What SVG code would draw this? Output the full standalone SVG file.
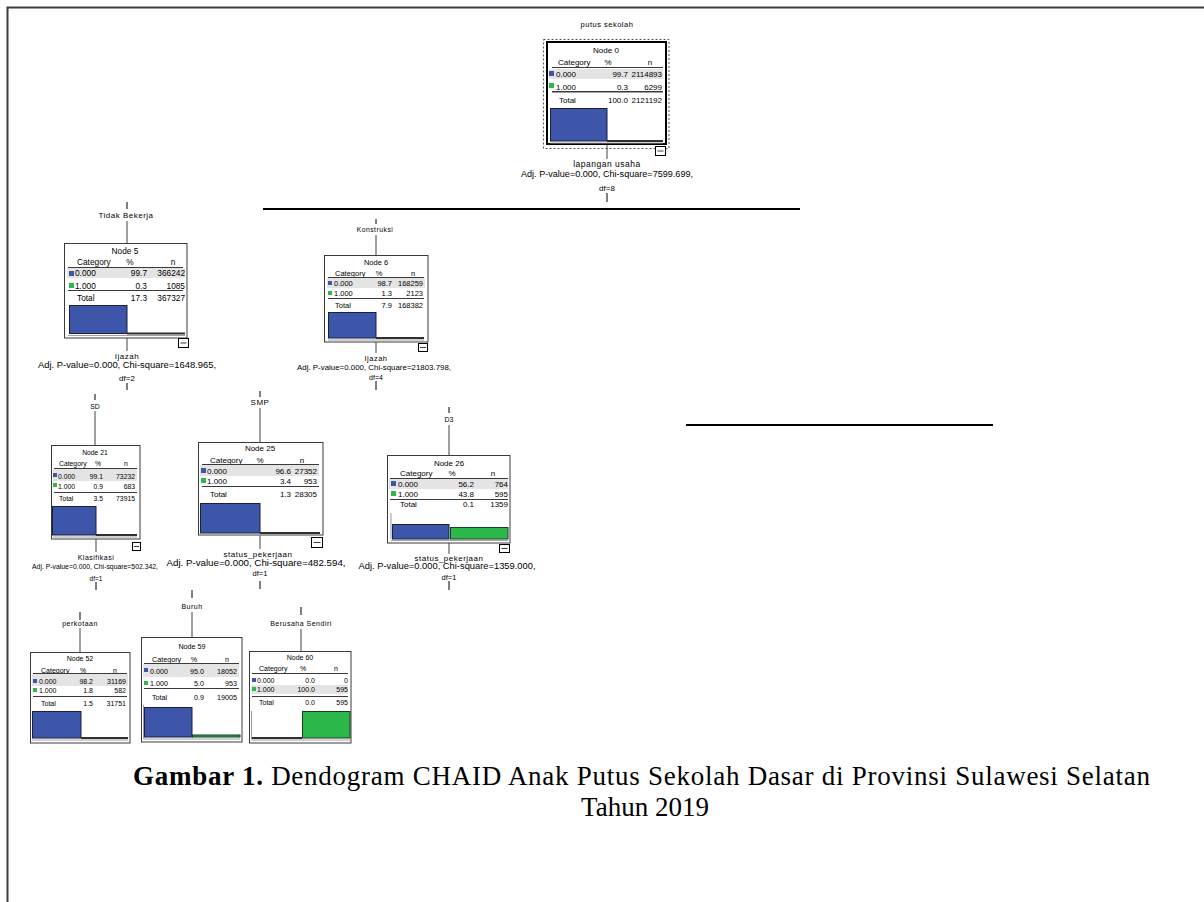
<svg xmlns="http://www.w3.org/2000/svg" width="1204" height="902" viewBox="0 0 1204 902">
  <style>
    text { font-family: "Liberation Sans", Arial, sans-serif; fill: #000; }
    .cap { font-family: "Liberation Serif", "Times New Roman", serif; font-size: 27px; }
    .lbl { letter-spacing: 0.5px; }
    .box { fill: #fff; stroke: #3a3a3a; stroke-width: 1; }
    .bg { fill: #e4e4e4; }
    .rule { stroke: #3a3a3a; stroke-width: 1; }
    .rule2 { stroke: #a0a0a0; stroke-width: 1; }
    .blue { fill: #3d56aa; stroke: #1c1f3c; stroke-width: 1; }
    .green { fill: #2db84b; stroke: #1b3a20; stroke-width: 1; }
    .sqb { fill: #3d56aa; }
    .sqg { fill: #2db84b; }
    .base { stroke: #303030; stroke-width: 2; }
    .axis { stroke: #9a9a9a; stroke-width: 1; }
    .mini { fill: #fff; stroke: #000; stroke-width: 1; }
    .conn { stroke: #6e6e6e; stroke-width: 1.3; fill: none; }
    .tick { stroke: #000; stroke-width: 1; }
    .split { stroke: #000; stroke-width: 2; }
    .m { text-anchor: middle; }
    .e { text-anchor: end; }
  </style>

  <!-- frame -->
  <path d="M7.5 902 V7.5 H1204" fill="none" stroke="#3c3c3c" stroke-width="2"/>

  <!-- connectors, split labels and statistics -->
  <g id="connectors">
    <text x="607" y="27" class="m lbl" font-size="7.5">putus sekolah</text>
    <line class="conn" x1="607" y1="145" x2="607" y2="159"/>
    <text x="607" y="167" class="m lbl" font-size="8.5">lapangan usaha</text>
    <text x="607" y="176.5" class="m" font-size="8.5" textLength="172" lengthAdjust="spacingAndGlyphs">Adj. P-value=0.000, Chi-square=7599.699,</text>
    <text x="607" y="191" class="m" font-size="8">df=8</text>
    <line class="tick" x1="607" y1="193" x2="607" y2="202"/>
    <line class="split" x1="263" y1="209" x2="800" y2="209"/>

    <!-- to Node 5 -->
    <line class="tick" x1="127" y1="202" x2="127" y2="209"/>
    <text x="126" y="218" class="m lbl" font-size="8">Tidak Bekerja</text>
    <line class="conn" x1="127" y1="221" x2="127" y2="243"/>
    <line class="conn" x1="127" y1="338" x2="127" y2="351"/>
    <text x="127" y="359" class="m lbl" font-size="8">Ijazah</text>
    <text x="127" y="367.5" class="m" font-size="8.5" textLength="178" lengthAdjust="spacingAndGlyphs">Adj. P-value=0.000, Chi-square=1648.965,</text>
    <text x="127" y="381" class="m" font-size="8">df=2</text>
    <line class="tick" x1="127" y1="383" x2="127" y2="390"/>

    <!-- to Node 6 -->
    <line class="tick" x1="376" y1="219" x2="376" y2="224"/>
    <text x="375" y="231.5" class="m lbl" font-size="6.8">Konstruksi</text>
    <line class="conn" x1="376" y1="235" x2="376" y2="255"/>
    <line class="conn" x1="376" y1="342" x2="376" y2="353"/>
    <text x="376" y="360.5" class="m lbl" font-size="7.5">Ijazah</text>
    <text x="374" y="369.5" class="m" font-size="7.5" textLength="154" lengthAdjust="spacingAndGlyphs">Adj. P-value=0.000, Chi-square=21803.798,</text>
    <text x="376" y="379.5" class="m" font-size="7">df=4</text>
    <line class="tick" x1="376" y1="381" x2="376" y2="390"/>

    <!-- to Node 21 -->
    <line class="tick" x1="95" y1="394" x2="95" y2="400"/>
    <text x="95" y="408.5" class="m" font-size="6.8">SD</text>
    <line class="conn" x1="95" y1="411" x2="95" y2="445"/>
    <line class="conn" x1="96" y1="539" x2="96" y2="552"/>
    <text x="96" y="559.5" class="m lbl" font-size="7">Klasifikasi</text>
    <text x="95" y="569" class="m" font-size="6.5" textLength="126" lengthAdjust="spacingAndGlyphs">Adj. P-value=0.000, Chi-square=502.342,</text>
    <text x="96" y="580.5" class="m" font-size="6.5">df=1</text>
    <line class="tick" x1="96" y1="582" x2="96" y2="590"/>

    <!-- to Node 25 -->
    <line class="tick" x1="260" y1="391" x2="260" y2="397"/>
    <text x="260" y="405" class="m lbl" font-size="8">SMP</text>
    <line class="conn" x1="260" y1="408" x2="260" y2="442"/>
    <line class="conn" x1="260" y1="535" x2="260" y2="549"/>
    <text x="258" y="557" class="m lbl" font-size="8">status_pekerjaan</text>
    <text x="256" y="566" class="m" font-size="8.5" textLength="179" lengthAdjust="spacingAndGlyphs">Adj. P-value=0.000, Chi-square=482.594,</text>
    <text x="260" y="576" class="m" font-size="7.5">df=1</text>
    <line class="tick" x1="260" y1="581" x2="260" y2="589"/>

    <!-- to Node 26 -->
    <line class="tick" x1="449" y1="407" x2="449" y2="413"/>
    <text x="449" y="421.5" class="m" font-size="7">D3</text>
    <line class="conn" x1="449" y1="425" x2="449" y2="455"/>
    <line class="conn" x1="449" y1="543" x2="449" y2="554"/>
    <text x="449" y="561" class="m lbl" font-size="8">status_pekerjaan</text>
    <text x="447" y="569" class="m" font-size="8.5" textLength="177" lengthAdjust="spacingAndGlyphs">Adj. P-value=0.000, Chi-square=1359.000,</text>
    <text x="449" y="580" class="m" font-size="7.5">df=1</text>
    <line class="tick" x1="449" y1="581" x2="449" y2="590"/>

    <line class="split" x1="686" y1="425" x2="993" y2="425"/>

    <!-- to Node 52 -->
    <line class="tick" x1="80" y1="612" x2="80" y2="620"/>
    <text x="80" y="625.5" class="m lbl" font-size="7">perkotaan</text>
    <line class="conn" x1="80" y1="628" x2="80" y2="652"/>

    <!-- to Node 59 -->
    <line class="tick" x1="192" y1="590" x2="192" y2="598"/>
    <text x="192" y="608.5" class="m lbl" font-size="7">Buruh</text>
    <line class="conn" x1="192" y1="612" x2="192" y2="637"/>

    <!-- to Node 60 -->
    <line class="tick" x1="301" y1="607" x2="301" y2="615"/>
    <text x="301" y="625.5" class="m lbl" font-size="7">Berusaha Sendiri</text>
    <line class="conn" x1="301" y1="629" x2="301" y2="651"/>
  </g>

  <!-- Node 0 (root, selected) -->
  <g id="node-0" font-size="8">
    <rect x="543.5" y="39.5" width="125.5" height="109" fill="none" stroke="#555" stroke-dasharray="2 2"/>
    <rect x="547" y="42" width="119" height="102" fill="#fff" stroke="#000" stroke-width="2"/>
    <text x="606" y="53" class="m">Node 0</text>
    <text x="558" y="65">Category</text>
    <text x="608" y="65" class="m">%</text>
    <text x="650" y="65" class="m">n</text>
    <line class="rule" x1="552" y1="67.5" x2="663" y2="67.5"/>
    <rect class="bg" x="549" y="69" width="114" height="10"/>
    <rect class="sqb" x="549" y="71" width="5" height="5"/>
    <text x="556" y="77">0.000</text>
    <text x="628" y="77" class="e">99.7</text>
    <text x="662" y="77" class="e">2114893</text>
    <rect class="sqg" x="549" y="83" width="5" height="5"/>
    <text x="556" y="89.5">1.000</text>
    <text x="628" y="89.5" class="e">0.3</text>
    <text x="662" y="89.5" class="e">6299</text>
    <line class="rule" x1="552" y1="91.5" x2="663" y2="91.5"/>
    <line class="rule2" x1="552" y1="92.5" x2="663" y2="92.5"/>
    <text x="559" y="103">Total</text>
    <text x="628" y="103" class="e">100.0</text>
    <text x="662" y="103" class="e">2121192</text>
    <rect class="blue" x="550.5" y="108.5" width="56.5" height="32.5"/>
    <line class="base" x1="607" y1="141" x2="663" y2="141"/>
    <line class="rule2" x1="550" y1="143" x2="663" y2="143"/>
    <rect class="mini" x="655.5" y="146.5" width="10" height="9"/>
    <line class="rule" x1="657.5" y1="151" x2="663.5" y2="151"/>
  </g>

  <!-- Node 5 -->
  <g id="node-5" font-size="8.3">
    <rect class="box" x="64.5" y="243.5" width="122.5" height="94.5"/>
    <text x="125" y="254" class="m">Node 5</text>
    <text x="77" y="265">Category</text>
    <text x="130" y="265" class="m">%</text>
    <text x="173" y="265" class="m">n</text>
    <line class="rule" x1="68" y1="267.5" x2="183" y2="267.5"/>
    <rect class="bg" x="67" y="268" width="118" height="10"/>
    <rect class="sqb" x="69" y="271" width="5" height="5"/>
    <text x="75" y="276">0.000</text>
    <text x="147" y="276" class="e">99.7</text>
    <text x="185" y="276" class="e">366242</text>
    <rect class="sqg" x="69" y="283" width="5" height="5"/>
    <text x="75" y="288.5">1.000</text>
    <text x="147" y="288.5" class="e">0.3</text>
    <text x="185" y="288.5" class="e">1085</text>
    <line class="rule" x1="68" y1="290.5" x2="183" y2="290.5"/>
    <text x="77" y="301">Total</text>
    <text x="147" y="301" class="e">17.3</text>
    <text x="185" y="301" class="e">367327</text>
    <rect class="blue" x="69.5" y="305.5" width="57.5" height="28"/>
    <line class="base" x1="127" y1="333.5" x2="185" y2="333.5"/>
    <line class="rule2" x1="68" y1="335.5" x2="185" y2="335.5"/>
    <rect class="mini" x="178.5" y="338.5" width="10" height="9"/>
    <line class="rule" x1="180.5" y1="343" x2="186.5" y2="343"/>
  </g>

  <!-- Node 6 -->
  <g id="node-6" font-size="7.5">
    <rect class="box" x="324.5" y="255.5" width="103.5" height="86.5"/>
    <text x="376" y="265" class="m">Node 6</text>
    <text x="335" y="275.5">Category</text>
    <text x="379" y="275.5" class="m">%</text>
    <text x="413" y="275.5" class="m">n</text>
    <line class="rule" x1="328" y1="277.5" x2="424" y2="277.5"/>
    <rect class="bg" x="327" y="278" width="98" height="10"/>
    <rect class="sqb" x="328" y="281" width="4" height="4"/>
    <text x="334" y="286">0.000</text>
    <text x="392" y="286" class="e">98.7</text>
    <text x="423" y="286" class="e">168259</text>
    <rect class="sqg" x="328" y="291" width="4" height="4"/>
    <text x="334" y="296">1.000</text>
    <text x="392" y="296" class="e">1.3</text>
    <text x="423" y="296" class="e">2123</text>
    <line class="rule" x1="328" y1="298.5" x2="424" y2="298.5"/>
    <text x="335" y="307.5">Total</text>
    <text x="392" y="307.5" class="e">7.9</text>
    <text x="423" y="307.5" class="e">168382</text>
    <rect class="blue" x="328.5" y="312.5" width="47.5" height="25.5"/>
    <line class="base" x1="376" y1="338" x2="424" y2="338"/>
    <line class="rule2" x1="328" y1="340" x2="424" y2="340"/>
    <rect class="mini" x="418.5" y="343.5" width="9" height="8"/>
    <line class="rule" x1="420" y1="347.5" x2="426" y2="347.5"/>
  </g>

  <!-- Node 21 -->
  <g id="node-21" font-size="6.8">
    <rect class="box" x="51.5" y="445.5" width="88.5" height="93.5"/>
    <text x="95" y="454.5" class="m">Node 21</text>
    <text x="59" y="466">Category</text>
    <text x="98" y="466" class="m">%</text>
    <text x="126" y="466" class="m">n</text>
    <line class="rule" x1="54" y1="468.5" x2="137" y2="468.5"/>
    <rect class="bg" x="53" y="469" width="84" height="12"/>
    <rect class="sqb" x="53" y="473" width="4" height="4"/>
    <text x="58" y="478.5">0.000</text>
    <text x="103" y="478.5" class="e">99.1</text>
    <text x="135" y="478.5" class="e">73232</text>
    <rect class="sqg" x="53" y="483" width="4" height="4"/>
    <text x="58" y="488.5">1.000</text>
    <text x="103" y="488.5" class="e">0.9</text>
    <text x="135" y="488.5" class="e">683</text>
    <line class="rule" x1="54" y1="492.5" x2="137" y2="492.5"/>
    <text x="59" y="500.5">Total</text>
    <text x="103" y="500.5" class="e">3.5</text>
    <text x="135" y="500.5" class="e">73915</text>
    <rect class="blue" x="52.5" y="506.5" width="43.5" height="28.5"/>
    <line class="base" x1="96" y1="535" x2="137" y2="535"/>
    <line class="rule2" x1="53" y1="537" x2="137" y2="537"/>
    <rect class="mini" x="132.5" y="542.5" width="8" height="8"/>
    <line class="rule" x1="134" y1="546.5" x2="139" y2="546.5"/>
  </g>

  <!-- Node 25 -->
  <g id="node-25" font-size="8">
    <rect class="box" x="198.5" y="442.5" width="124.5" height="92.5"/>
    <text x="260" y="451" class="m">Node 25</text>
    <text x="210" y="463">Category</text>
    <text x="260" y="463" class="m">%</text>
    <text x="302" y="463" class="m">n</text>
    <line class="rule" x1="202" y1="464.5" x2="319" y2="464.5"/>
    <rect class="bg" x="200" y="465" width="119" height="11"/>
    <rect class="sqb" x="201" y="468" width="5" height="5"/>
    <text x="207" y="474">0.000</text>
    <text x="291" y="474" class="e">96.6</text>
    <text x="317" y="474" class="e">27352</text>
    <rect class="sqg" x="201" y="478" width="5" height="5"/>
    <text x="207" y="483.5">1.000</text>
    <text x="291" y="483.5" class="e">3.4</text>
    <text x="317" y="483.5" class="e">953</text>
    <line class="rule" x1="202" y1="486.5" x2="319" y2="486.5"/>
    <text x="210" y="497">Total</text>
    <text x="291" y="497" class="e">1.3</text>
    <text x="317" y="497" class="e">28305</text>
    <rect class="blue" x="200.5" y="503.5" width="59.5" height="29.5"/>
    <line class="base" x1="260" y1="533" x2="320" y2="533"/>
    <line class="rule2" x1="201" y1="535" x2="320" y2="535"/>
    <rect class="mini" x="311.5" y="537.5" width="11" height="10"/>
    <line class="rule" x1="313.5" y1="542.5" x2="320.5" y2="542.5"/>
  </g>

  <!-- Node 26 -->
  <g id="node-26" font-size="8">
    <rect class="box" x="387.5" y="455.5" width="122.5" height="87.5"/>
    <text x="449" y="466" class="m">Node 26</text>
    <text x="400" y="476">Category</text>
    <text x="452" y="476" class="m">%</text>
    <text x="493" y="476" class="m">n</text>
    <line class="rule" x1="390" y1="478.5" x2="508" y2="478.5"/>
    <rect class="bg" x="389" y="479" width="119" height="10"/>
    <rect class="sqb" x="391" y="481" width="5" height="5"/>
    <text x="398" y="486.5">0.000</text>
    <text x="474" y="486.5" class="e">56.2</text>
    <text x="508" y="486.5" class="e">764</text>
    <rect class="sqg" x="391" y="491" width="5" height="5"/>
    <text x="398" y="496.5">1.000</text>
    <text x="474" y="496.5" class="e">43.8</text>
    <text x="508" y="496.5" class="e">595</text>
    <line class="rule" x1="390" y1="499.5" x2="508" y2="499.5"/>
    <text x="400" y="506.5">Total</text>
    <text x="474" y="506.5" class="e">0.1</text>
    <text x="508" y="506.5" class="e">1359</text>
    <line class="axis" x1="391" y1="513" x2="391" y2="539"/>
    <rect class="blue" x="392.5" y="524.5" width="56.5" height="14.5"/>
    <rect class="green" x="450.5" y="527.5" width="57.5" height="11.5"/>
    <line class="rule2" x1="391" y1="540.5" x2="508" y2="540.5"/>
    <rect class="mini" x="499.5" y="544.5" width="10" height="8"/>
    <line class="rule" x1="501.5" y1="548.5" x2="507.5" y2="548.5"/>
  </g>

  <!-- Node 52 -->
  <g id="node-52" font-size="7">
    <rect class="box" x="30.5" y="652.5" width="99.5" height="90.5"/>
    <text x="80" y="661" class="m">Node 52</text>
    <text x="41" y="672.5">Category</text>
    <text x="83" y="672.5" class="m">%</text>
    <text x="115" y="672.5" class="m">n</text>
    <line class="rule" x1="33" y1="673.5" x2="127" y2="673.5"/>
    <rect class="bg" x="32" y="674" width="96" height="12"/>
    <rect class="sqb" x="33" y="679" width="4" height="4"/>
    <text x="39" y="683.5">0.000</text>
    <text x="93" y="683.5" class="e">98.2</text>
    <text x="126" y="683.5" class="e">31169</text>
    <rect class="sqg" x="33" y="688" width="4" height="4"/>
    <text x="39" y="692.5">1.000</text>
    <text x="93" y="692.5" class="e">1.8</text>
    <text x="126" y="692.5" class="e">582</text>
    <line class="rule" x1="33" y1="696.5" x2="127" y2="696.5"/>
    <text x="41" y="705.5">Total</text>
    <text x="93" y="705.5" class="e">1.5</text>
    <text x="126" y="705.5" class="e">31751</text>
    <rect class="blue" x="32.5" y="711.5" width="48.5" height="26.5"/>
    <line class="base" x1="81" y1="738" x2="128" y2="738"/>
    <line class="rule2" x1="32" y1="740" x2="128" y2="740"/>
  </g>

  <!-- Node 59 -->
  <g id="node-59" font-size="7.2">
    <rect class="box" x="141.5" y="637.5" width="100.5" height="104.5"/>
    <text x="192" y="649" class="m">Node 59</text>
    <text x="152" y="661.5">Category</text>
    <text x="194" y="661.5" class="m">%</text>
    <text x="227" y="661.5" class="m">n</text>
    <line class="rule" x1="144" y1="663.5" x2="239" y2="663.5"/>
    <rect class="bg" x="143" y="664" width="96" height="13"/>
    <rect class="sqb" x="144" y="668" width="4" height="4"/>
    <text x="150" y="674">0.000</text>
    <text x="204" y="674" class="e">95.0</text>
    <text x="237" y="674" class="e">18052</text>
    <rect class="sqg" x="144" y="681" width="4" height="4"/>
    <text x="150" y="686">1.000</text>
    <text x="204" y="686" class="e">5.0</text>
    <text x="237" y="686" class="e">953</text>
    <line class="rule" x1="144" y1="688.5" x2="239" y2="688.5"/>
    <text x="152" y="700">Total</text>
    <text x="204" y="700" class="e">0.9</text>
    <text x="237" y="700" class="e">19005</text>
    <line class="axis" x1="143.5" y1="705" x2="143.5" y2="738"/>
    <rect class="blue" x="144.5" y="707.5" width="47.5" height="29.5"/>
    <rect class="green" x="192.5" y="735" width="47.5" height="2"/>
    <line class="rule2" x1="143" y1="739" x2="240" y2="739"/>
  </g>

  <!-- Node 60 -->
  <g id="node-60" font-size="7">
    <rect class="box" x="249.5" y="651.5" width="101.5" height="91.5"/>
    <text x="300" y="660" class="m">Node 60</text>
    <text x="259" y="671">Category</text>
    <text x="303" y="671" class="m">%</text>
    <text x="336" y="671" class="m">n</text>
    <line class="rule" x1="252" y1="673.5" x2="348" y2="673.5"/>
    <rect class="sqb" x="252" y="678" width="4" height="4"/>
    <text x="257" y="683">0.000</text>
    <text x="315" y="683" class="e">0.0</text>
    <text x="348" y="683" class="e">0</text>
    <rect class="bg" x="251" y="685" width="97" height="9"/>
    <rect class="sqg" x="252" y="687" width="4" height="4"/>
    <text x="257" y="692">1.000</text>
    <text x="315" y="692" class="e">100.0</text>
    <text x="348" y="692" class="e">595</text>
    <line class="rule" x1="252" y1="696.5" x2="348" y2="696.5"/>
    <text x="259" y="705">Total</text>
    <text x="315" y="705" class="e">0.0</text>
    <text x="348" y="705" class="e">595</text>
    <line class="axis" x1="251.5" y1="711" x2="251.5" y2="739"/>
    <line class="base" x1="252" y1="738" x2="302" y2="738"/>
    <rect class="green" x="302.5" y="711.5" width="47.5" height="26.5"/>
    <line class="rule2" x1="251" y1="740" x2="350" y2="740"/>
  </g>

  <!-- caption -->
  <g id="caption">
    <text x="133" y="785" class="cap" textLength="1017" lengthAdjust="spacing"><tspan font-weight="bold">Gambar 1.</tspan> Dendogram CHAID Anak Putus Sekolah Dasar di Provinsi Sulawesi Selatan</text>
    <text x="645" y="816" class="cap m">Tahun 2019</text>
  </g>
</svg>
